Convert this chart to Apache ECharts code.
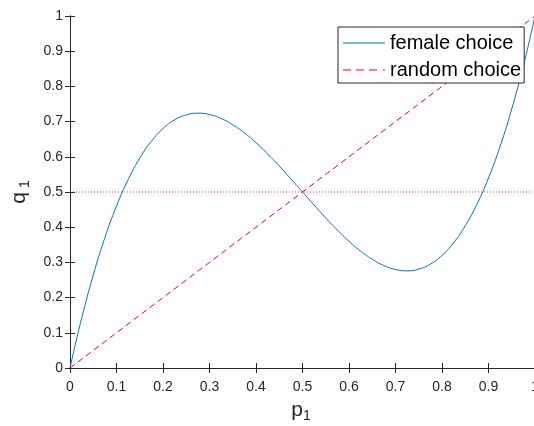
<!DOCTYPE html>
<html>
<head>
<meta charset="utf-8">
<script src="https://cdn.jsdelivr.net/npm/echarts@6/dist/echarts.min.js"></script>
<style>
  html, body { margin: 0; padding: 0; background: #ffffff; }
  #chart { width: 534px; height: 426px; }
</style>
</head>
<body>
<div id="chart"></div>
<script>
// Male trait frequency p1 against the resulting mating frequency q1
const pValues = [0, 0.0125, 0.025, 0.05, 0.075, 0.1, 0.125, 0.15, 0.175, 0.2, 0.225, 0.25, 0.275, 0.3,
  0.325, 0.35, 0.375, 0.4, 0.425, 0.45, 0.475, 0.5, 0.525, 0.55, 0.575, 0.6, 0.625, 0.65, 0.675,
  0.7, 0.725, 0.75, 0.775, 0.8, 0.825, 0.85, 0.875, 0.9, 0.925, 0.95, 0.975, 0.9875, 1];
const femaleChoice = [0, 0.073, 0.141, 0.264, 0.370, 0.460, 0.535, 0.596, 0.644, 0.680, 0.705, 0.719, 0.724, 0.720,
  0.709, 0.691, 0.668, 0.640, 0.608, 0.574, 0.537, 0.500, 0.463, 0.426, 0.392, 0.360, 0.332, 0.309, 0.291,
  0.280, 0.276, 0.281, 0.295, 0.320, 0.356, 0.404, 0.465, 0.540, 0.630, 0.736, 0.859, 0.927, 1];
const randomP = [0, 1];
const randomChoice = [0, 1];
const halfLevel = 0.5;

const axisColor = '#262626';
const blue = '#0072BD';
const red = '#FF0000';
const font = '"Liberation Sans", Arial, Helvetica, sans-serif';

// Legend swatches: a solid stroke and a dashed stroke ending in a dot
const solidIcon = 'path://M0,0h42v1h-42z';
const dashedIcon = 'path://M0,0h8v1h-8zM13,0h8v1h-8zM26,0h8v1h-8zM40,0h2v1h-2z';

const chart = echarts.init(document.getElementById('chart'), null, { renderer: 'canvas' });

const tickCommon = {
  axisLine: { show: true, lineStyle: { color: axisColor, width: 1 } },
  axisTick: { show: true, inside: true, length: 5, lineStyle: { color: axisColor, width: 1 } },
  splitLine: { show: false }
};

chart.setOption({
  animation: false,
  backgroundColor: '#ffffff',
  grid: { left: 70, top: 16, width: 465, height: 352, containLabel: false, outerBoundsMode: 'none' },
  xAxis: [
    Object.assign({
      type: 'value', min: 0, max: 1, interval: 0.1, position: 'bottom',
      axisLabel: { color: axisColor, fontSize: 14, fontFamily: font, margin: 12 }
    }, tickCommon),
    Object.assign({
      type: 'value', min: 0, max: 1, interval: 0.1, position: 'top',
      axisLabel: { show: false }
    }, tickCommon)
  ],
  yAxis: [
    Object.assign({
      type: 'value', min: 0, max: 1, interval: 0.1, position: 'left',
      axisLabel: { color: axisColor, fontSize: 14, fontFamily: font, margin: 7 }
    }, tickCommon),
    Object.assign({
      type: 'value', min: 0, max: 1, interval: 0.1, position: 'right',
      axisLabel: { show: false }
    }, tickCommon)
  ],
  legend: {
    data: [
      { name: 'female choice', icon: solidIcon, itemStyle: { color: blue } },
      { name: 'random choice', icon: dashedIcon, itemStyle: { color: red } }
    ],
    orient: 'vertical',
    left: 338, top: 27,
    padding: [5, 3, 2, 5],
    itemGap: 5,
    itemWidth: 42, itemHeight: 1,
    symbolKeepAspect: false,
    backgroundColor: '#ffffff',
    borderColor: axisColor, borderWidth: 1, borderRadius: 0,
    textStyle: { fontSize: 20, color: '#000000', fontFamily: font, lineHeight: 22 },
    selectedMode: false
  },
  series: [
    {
      name: 'female choice', type: 'line', smooth: true, symbol: 'none',
      lineStyle: { color: blue, width: 1 },
      itemStyle: { color: blue },
      data: pValues.map((p, i) => [p, femaleChoice[i]]),
      z: 2
    },
    {
      name: 'random choice', type: 'line', symbol: 'none',
      lineStyle: { color: red, width: 1, type: [6, 4] },
      itemStyle: { color: red },
      data: randomP.map((p, i) => [p, randomChoice[i]]),
      z: 3
    },
    {
      name: 'q = 0.5', type: 'line', symbol: 'none',
      lineStyle: { color: 'rgba(255,0,0,0.75)', width: 1, type: [1, 2] },
      data: [[0, halfLevel], [1, halfLevel]],
      z: 4
    }
  ],
  graphic: [
    { type: 'text', x: 297, y: 410, style: { text: 'p', fontSize: 21, fontFamily: font, fill: axisColor, align: 'center', verticalAlign: 'middle' } },
    { type: 'text', x: 307, y: 416, style: { text: '1', fontSize: 14, fontFamily: font, fill: axisColor, align: 'center', verticalAlign: 'middle' } },
    { type: 'text', x: 19, y: 198, rotation: Math.PI / 2, style: { text: 'q', fontSize: 21, fontFamily: font, fill: axisColor, align: 'center', verticalAlign: 'middle' } },
    { type: 'text', x: 25, y: 184, rotation: Math.PI / 2, style: { text: '1', fontSize: 14, fontFamily: font, fill: axisColor, align: 'center', verticalAlign: 'middle' } }
  ]
});
</script>
</body>
</html>
